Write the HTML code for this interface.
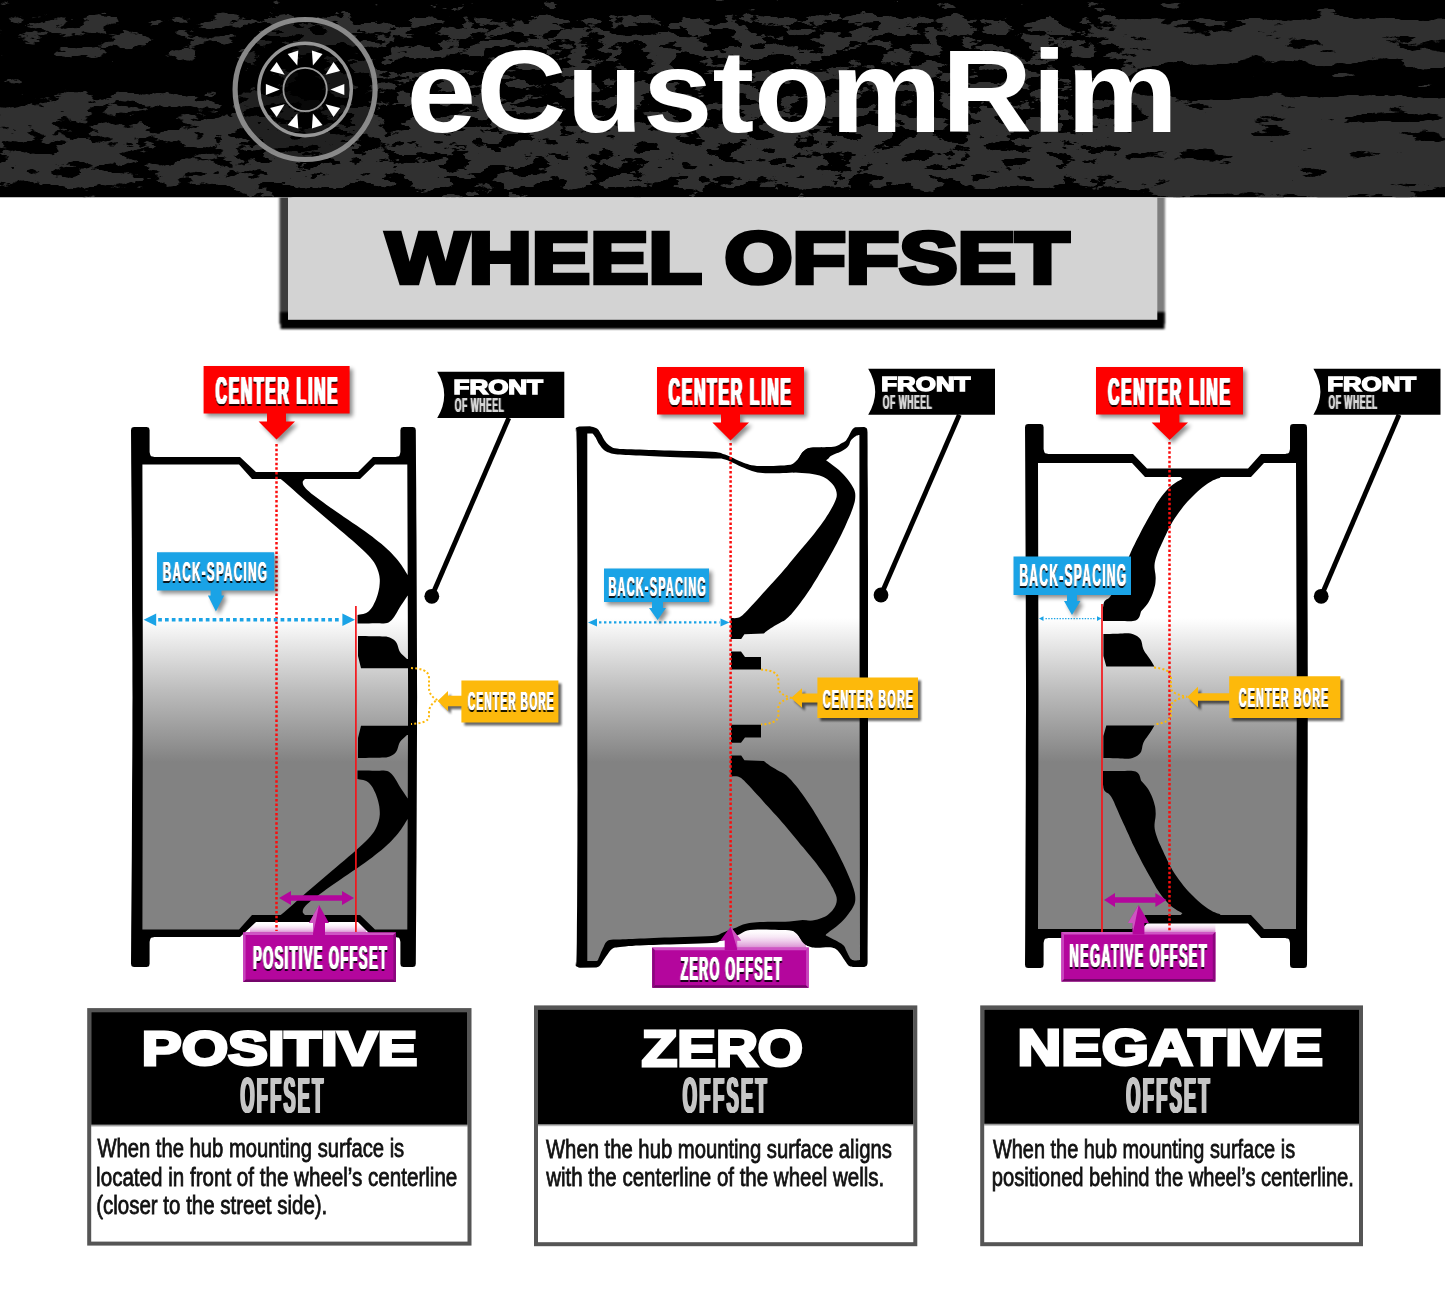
<!DOCTYPE html>
<html><head><meta charset="utf-8"><title>Wheel Offset</title>
<style>
html,body{margin:0;padding:0;background:#fff;}
body{width:1445px;height:1298px;overflow:hidden;}
svg{display:block;font-family:"Liberation Sans",sans-serif;will-change:transform;}
</style></head><body>
<svg width="1445" height="1298" viewBox="0 0 1445 1298">
<defs>
<filter id="tex" x="0" y="0" width="100%" height="100%" color-interpolation-filters="sRGB">
<feTurbulence type="fractalNoise" baseFrequency="0.016 0.055" numOctaves="6" seed="11" result="c0"/>
<feColorMatrix in="c0" type="matrix" values="1 0 0 0 0  1 0 0 0 0  1 0 0 0 0  0 0 0 0 1" result="coarse"/>
<feTurbulence type="fractalNoise" baseFrequency="0.034 0.085" numOctaves="5" seed="4" result="f0"/>
<feColorMatrix in="f0" type="matrix" values="1 0 0 0 0  1 0 0 0 0  1 0 0 0 0  0 0 0 0 1" result="fine"/>
<feGaussianBlur in="SourceGraphic" stdDeviation="22 2.2" result="b"/>
<feColorMatrix in="b" type="matrix" values="1 0 0 0 0  1 0 0 0 0  1 0 0 0 0  0 0 0 0 1" result="bias"/>
<feColorMatrix in="b" type="matrix" values="0 1 0 0 0  0 1 0 0 0  0 1 0 0 0  0 0 0 0 1" result="mfine"/>
<feColorMatrix in="b" type="matrix" values="0 -1 0 0 1  0 -1 0 0 1  0 -1 0 0 1  0 0 0 0 1" result="mcoarse"/>
<feComposite in="fine" in2="mfine" operator="arithmetic" k1="1" k2="0" k3="0" k4="0" result="t1"/>
<feComposite in="coarse" in2="mcoarse" operator="arithmetic" k1="1" k2="0" k3="0" k4="0" result="t2"/>
<feComposite in="t1" in2="t2" operator="arithmetic" k1="0" k2="1" k3="1" k4="0" result="n"/>
<feComposite in="n" in2="bias" operator="arithmetic" k1="0" k2="1" k3="0.5" k4="-0.25" result="v"/>
<feColorMatrix in="v" type="matrix" values="0 0 0 0 0.188  0 0 0 0 0.188  0 0 0 0 0.188  40 0 0 0 -20"/>
</filter>
<linearGradient id="bias" gradientUnits="userSpaceOnUse" x1="0" y1="0" x2="0" y2="198">
<stop offset="0" stop-color="#000"/><stop offset="0.07" stop-color="#1a1a1a"/><stop offset="0.13" stop-color="#999"/><stop offset="0.28" stop-color="#999"/>
<stop offset="0.36" stop-color="#666"/><stop offset="0.48" stop-color="#5a5a5a"/><stop offset="0.56" stop-color="#959595"/><stop offset="0.95" stop-color="#959595"/><stop offset="1" stop-color="#777"/></linearGradient>
<filter id="sh" x="-20%" y="-20%" width="150%" height="160%"><feGaussianBlur stdDeviation="2"/></filter>
<filter id="sh1" x="-20%" y="-20%" width="150%" height="160%"><feGaussianBlur stdDeviation="1.2"/></filter>
<filter id="blur3" x="-10%" y="-30%" width="120%" height="160%"><feGaussianBlur stdDeviation="2.2"/></filter>
<filter id="soft" x="-5%" y="-5%" width="110%" height="110%"><feGaussianBlur stdDeviation="0.5"/></filter>
<filter id="thick" x="-5%" y="-10%" width="110%" height="120%"><feMorphology operator="dilate" radius="1 0"/></filter>
<linearGradient id="ggrad" gradientUnits="userSpaceOnUse" x1="0" y1="618" x2="0" y2="762">
<stop offset="0" stop-color="#ffffff"/><stop offset="0.5" stop-color="#bdbdbd"/><stop offset="1" stop-color="#828282"/></linearGradient>
<linearGradient id="pgrad" x1="0" y1="0" x2="0" y2="1">
<stop offset="0" stop-color="#d45acb"/><stop offset="0.10" stop-color="#b4069d"/><stop offset="0.88" stop-color="#ae0598"/><stop offset="1" stop-color="#6d035f"/></linearGradient>
<linearGradient id="hsh" x1="0" y1="0" x2="0" y2="1"><stop offset="0" stop-color="#000" stop-opacity="0.55"/><stop offset="1" stop-color="#000" stop-opacity="0"/></linearGradient>
<linearGradient id="pglow" x1="0" y1="0" x2="0" y2="1">
<stop offset="0" stop-color="#ffffff" stop-opacity="0"/><stop offset="1" stop-color="#d98fd2"/></linearGradient>

<clipPath id="belowhdr"><rect x="0" y="197.5" width="1445" height="400"/></clipPath>
<filter id="lf60_fff_240505_22" x="-5%" y="-15%" width="110%" height="140%"><feConvolveMatrix in="SourceAlpha" order="3 1" kernelMatrix="0.60 1.00 0.60" divisor="1" edgeMode="none" result="a"/><feOffset in="a" dx="0" dy="2" result="o"/><feFlood flood-color="#240505"/><feComposite in2="o" operator="in" result="s"/><feFlood flood-color="#fff"/><feComposite in2="a" operator="in" result="m"/><feMerge><feMergeNode in="s"/><feMergeNode in="m"/></feMerge></filter>
<filter id="lf30_d4d4d4_n_20" x="-5%" y="-15%" width="110%" height="140%"><feConvolveMatrix in="SourceAlpha" order="3 1" kernelMatrix="0.30 1.00 0.30" divisor="1" edgeMode="none" result="a"/><feFlood flood-color="#d4d4d4"/><feComposite in2="a" operator="in" result="m"/></filter>
<filter id="lf20_fff_07121a_21" x="-5%" y="-15%" width="110%" height="140%"><feConvolveMatrix in="SourceAlpha" order="3 1" kernelMatrix="0.20 1.00 0.20" divisor="1" edgeMode="none" result="a"/><feOffset in="a" dx="0" dy="2" result="o"/><feFlood flood-color="#07121a"/><feComposite in2="o" operator="in" result="s"/><feFlood flood-color="#fff"/><feComposite in2="a" operator="in" result="m"/><feMerge><feMergeNode in="s"/><feMergeNode in="m"/></feMerge></filter>
<filter id="lf25_fff_1a1505_20" x="-5%" y="-15%" width="110%" height="140%"><feConvolveMatrix in="SourceAlpha" order="3 1" kernelMatrix="0.25 1.00 0.25" divisor="1" edgeMode="none" result="a"/><feOffset in="a" dx="0" dy="2" result="o"/><feFlood flood-color="#1a1505"/><feComposite in2="o" operator="in" result="s"/><feFlood flood-color="#fff"/><feComposite in2="a" operator="in" result="m"/><feMerge><feMergeNode in="s"/><feMergeNode in="m"/></feMerge></filter>
<filter id="lf35_fff_1c041a_20" x="-5%" y="-15%" width="110%" height="140%"><feConvolveMatrix in="SourceAlpha" order="3 1" kernelMatrix="0.35 1.00 0.35" divisor="1" edgeMode="none" result="a"/><feOffset in="a" dx="0" dy="2" result="o"/><feFlood flood-color="#1c041a"/><feComposite in2="o" operator="in" result="s"/><feFlood flood-color="#fff"/><feComposite in2="a" operator="in" result="m"/><feMerge><feMergeNode in="s"/><feMergeNode in="m"/></feMerge></filter>
<filter id="lf100_c6c6c6_n_20" x="-5%" y="-15%" width="110%" height="140%"><feConvolveMatrix in="SourceAlpha" order="3 1" kernelMatrix="1.00 1.00 1.00" divisor="1" edgeMode="none" result="a"/><feFlood flood-color="#c6c6c6"/><feComposite in2="a" operator="in" result="m"/></filter>
</defs>
<rect x="0" y="0" width="1445" height="197.5" fill="#000"/>
<g filter="url(#tex)"><rect x="-60" y="-30" width="322" height="44" fill="rgb(20,140,0)"/><rect x="-60" y="14" width="322" height="46" fill="rgb(107,140,0)"/><rect x="-60" y="60" width="322" height="32" fill="rgb(28,140,0)"/><rect x="-60" y="92" width="322" height="98" fill="rgb(143,140,0)"/><rect x="-60" y="190" width="322" height="40" fill="rgb(51,140,0)"/><rect x="262" y="-30" width="873" height="46" fill="rgb(26,230,0)"/><rect x="262" y="16" width="873" height="32" fill="rgb(140,230,0)"/><rect x="262" y="48" width="873" height="52" fill="rgb(112,230,0)"/><rect x="262" y="100" width="873" height="25" fill="rgb(117,230,0)"/><rect x="262" y="125" width="873" height="63" fill="rgb(168,230,0)"/><rect x="262" y="188" width="873" height="42" fill="rgb(38,230,0)"/><rect x="1135" y="-30" width="365" height="48" fill="rgb(20,26,0)"/><rect x="1135" y="18" width="365" height="47" fill="rgb(204,26,0)"/><rect x="1135" y="65" width="365" height="32" fill="rgb(26,26,0)"/><rect x="1135" y="97" width="365" height="20" fill="rgb(209,26,0)"/><rect x="1135" y="117" width="365" height="4" fill="rgb(51,26,0)"/><rect x="1135" y="121" width="365" height="71" fill="rgb(214,26,0)"/><rect x="1135" y="192" width="365" height="38" fill="rgb(76,26,0)"/></g>
<rect x="0" y="197.5" width="1445" height="60" fill="#fff"/>
<g>
<circle cx="305.1" cy="89.5" r="70" fill="#000" fill-opacity="0.3" stroke="#929292" stroke-opacity="0.92" stroke-width="5.2"/>
<circle cx="305.1" cy="89.5" r="46.2" fill="#000" fill-opacity="0.3" stroke="#a2a2a2" stroke-opacity="0.92" stroke-width="3.4"/>
<circle cx="305.1" cy="89.5" r="21.7" fill="#000" fill-opacity="0.6" stroke="#9c9c9c" stroke-width="1.8"/>
<path d="M25.3,0 L39.2,-5.6 L39.2,5.6 Z" fill="#fff" transform="translate(305.1,89.5) rotate(0)"/>
<path d="M25.3,0 L39.2,-5.6 L39.2,5.6 Z" fill="#fff" transform="translate(305.1,89.5) rotate(36)"/>
<path d="M25.3,0 L39.2,-5.6 L39.2,5.6 Z" fill="#fff" transform="translate(305.1,89.5) rotate(72)"/>
<path d="M25.3,0 L39.2,-5.6 L39.2,5.6 Z" fill="#fff" transform="translate(305.1,89.5) rotate(108)"/>
<path d="M25.3,0 L39.2,-5.6 L39.2,5.6 Z" fill="#fff" transform="translate(305.1,89.5) rotate(144)"/>
<path d="M25.3,0 L39.2,-5.6 L39.2,5.6 Z" fill="#fff" transform="translate(305.1,89.5) rotate(180)"/>
<path d="M25.3,0 L39.2,-5.6 L39.2,5.6 Z" fill="#fff" transform="translate(305.1,89.5) rotate(216)"/>
<path d="M25.3,0 L39.2,-5.6 L39.2,5.6 Z" fill="#fff" transform="translate(305.1,89.5) rotate(252)"/>
<path d="M25.3,0 L39.2,-5.6 L39.2,5.6 Z" fill="#fff" transform="translate(305.1,89.5) rotate(288)"/>
<path d="M25.3,0 L39.2,-5.6 L39.2,5.6 Z" fill="#fff" transform="translate(305.1,89.5) rotate(324)"/>
</g>
<text transform="translate(406.60,131.70) scale(1.0777,1.0000)" font-size="116.07" font-weight="bold" fill="#fff" >eCustomRim</text>
<g clip-path="url(#belowhdr)"><rect x="279.5" y="190" width="12" height="134" fill="#3c3c3c" filter="url(#sh1)"/><rect x="1153" y="190" width="12" height="134" fill="#7e7e7e" filter="url(#sh1)"/><rect x="280.5" y="312" width="884" height="17" fill="#000" filter="url(#sh1)"/></g>
<rect x="288" y="197.5" width="869.3" height="122.3" fill="#d3d3d3"/>
<text transform="translate(386.30,282.90) scale(1.2162,1.0000)" font-size="71.85" font-weight="bold" fill="#000" stroke="#000" stroke-width="4.60" stroke-linejoin="miter" stroke-miterlimit="2.2" >WHEEL OFFSET</text>
<rect x="250.0" y="922.4" width="116.0" height="10.0" fill="url(#pglow)"/>
<rect x="736.0" y="927.6" width="70.0" height="20.0" fill="url(#pglow)"/>
<rect x="1140.0" y="922.0" width="75.4" height="10.0" fill="url(#pglow)"/>
<path fill="#000" d="M132.5,697.0 L132.4,682.3 L132.4,661.9 L132.3,637.8 L132.1,611.8 L132.0,585.9 L131.9,562.0 L131.8,538.3 L131.6,512.9 L131.4,487.6 L131.2,464.1 L131.1,444.3 L131.0,430.0 L131.0,430.0 L131.1,429.7 L131.2,429.4 L131.3,429.0 L131.4,428.5 L131.6,428.1 L131.8,427.8 L132.1,427.6 L132.5,427.4 L133.0,427.3 L133.4,427.2 L133.7,427.1 L134.0,427.0 L146.6,427.0 L146.9,427.1 L147.2,427.2 L147.6,427.3 L148.1,427.4 L148.5,427.6 L148.8,427.8 L149.0,428.1 L149.2,428.5 L149.3,429.0 L149.4,429.4 L149.5,429.7 L149.6,430.0 L149.6,452.0 L149.7,452.4 L149.8,453.1 L150.0,453.8 L150.2,454.6 L150.4,455.3 L150.8,455.8 L151.3,456.2 L152.0,456.4 L152.8,456.6 L153.5,456.8 L154.2,456.9 L154.6,457.0 L240.0,457.0 L256.0,472.0 L358.0,472.0 L373.0,457.0 L395.4,457.0 L395.8,456.9 L396.5,456.8 L397.2,456.6 L398.0,456.4 L398.7,456.2 L399.2,455.8 L399.6,455.3 L399.8,454.6 L400.0,453.8 L400.2,453.1 L400.3,452.4 L400.4,452.0 L400.4,430.0 L400.5,429.7 L400.6,429.4 L400.7,429.0 L400.8,428.5 L401.0,428.1 L401.2,427.8 L401.5,427.6 L401.9,427.4 L402.4,427.3 L402.8,427.2 L403.1,427.1 L403.4,427.0 L412.8,427.0 L413.1,427.1 L413.4,427.2 L413.9,427.3 L414.3,427.4 L414.7,427.6 L415.0,427.8 L415.2,428.1 L415.4,428.5 L415.5,429.0 L415.6,429.4 L415.7,429.7 L415.8,430.0 L415.8,430.0 L415.9,444.3 L416.0,464.1 L416.2,487.6 L416.3,512.9 L416.5,538.3 L416.6,562.0 L416.7,585.9 L416.8,611.8 L416.9,637.8 L417.0,661.9 L417.0,682.3 L417.1,697.0 L417.1,697.0 L417.0,711.7 L417.0,732.1 L416.9,756.2 L416.8,782.2 L416.7,808.1 L416.6,832.0 L416.5,855.7 L416.3,881.1 L416.2,906.4 L416.0,929.9 L415.9,949.7 L415.8,964.0 L415.8,964.0 L415.7,964.3 L415.6,964.6 L415.5,965.0 L415.4,965.5 L415.2,965.9 L415.0,966.2 L414.7,966.4 L414.3,966.6 L413.9,966.7 L413.4,966.8 L413.1,966.9 L412.8,967.0 L403.4,967.0 L403.1,966.9 L402.8,966.8 L402.4,966.7 L401.9,966.6 L401.5,966.4 L401.2,966.2 L401.0,965.9 L400.8,965.5 L400.7,965.0 L400.6,964.6 L400.5,964.3 L400.4,964.0 L400.4,942.0 L400.3,941.6 L400.2,940.9 L400.0,940.2 L399.8,939.4 L399.6,938.7 L399.2,938.2 L398.7,937.8 L398.0,937.6 L397.2,937.4 L396.5,937.2 L395.8,937.1 L395.4,937.0 L373.0,937.0 L358.0,922.0 L256.0,922.0 L240.0,937.0 L154.6,937.0 L154.2,937.1 L153.5,937.2 L152.8,937.4 L152.0,937.6 L151.3,937.8 L150.8,938.2 L150.4,938.7 L150.2,939.4 L150.0,940.2 L149.8,940.9 L149.7,941.6 L149.6,942.0 L149.6,964.0 L149.5,964.3 L149.4,964.6 L149.3,965.0 L149.2,965.5 L149.0,965.9 L148.8,966.2 L148.5,966.4 L148.1,966.6 L147.6,966.7 L147.2,966.8 L146.9,966.9 L146.6,967.0 L134.0,967.0 L133.7,966.9 L133.4,966.8 L133.0,966.7 L132.5,966.6 L132.1,966.4 L131.8,966.2 L131.6,965.9 L131.4,965.5 L131.3,965.0 L131.2,964.6 L131.1,964.3 L131.0,964.0 L131.0,964.0 L131.1,949.7 L131.2,929.9 L131.4,906.4 L131.6,881.1 L131.8,855.7 L131.9,832.0 L132.0,808.1 L132.1,782.2 L132.3,756.2 L132.4,732.1 L132.4,711.7 L132.5,697.0Z"/>
<path d="M142.9,697.0 L142.4,464.4 L239.0,464.4 L252.0,479.0 L360.0,479.0 L375.0,464.4 L407.3,464.4 L408.1,697.0 L408.1,697.0 L407.3,929.6 L375.0,929.6 L360.0,915.0 L252.0,915.0 L239.0,929.6 L142.4,929.6 L142.9,697.0Z" fill="url(#ggrad)"/>
<path fill="#000" d="M272.0,474.0 L277.0,479.0 L277.2,478.8 L277.2,478.2 L277.4,477.7 L277.9,477.5 L279.0,477.9 L281.0,479.2 L284.1,481.7 L288.1,485.2 L292.7,489.3 L297.6,493.7 L302.5,498.0 L307.0,502.0 L311.2,505.6 L315.3,509.1 L319.4,512.6 L323.5,516.1 L327.6,519.5 L331.7,523.0 L335.9,526.6 L340.2,530.2 L344.5,533.8 L348.7,537.4 L352.7,540.8 L356.3,544.0 L359.6,547.0 L362.6,549.8 L365.5,552.5 L368.0,555.1 L370.3,557.6 L372.3,560.0 L374.0,562.3 L375.3,564.4 L376.3,566.5 L377.2,568.4 L377.9,570.4 L378.5,572.3 L379.0,574.2 L379.4,576.0 L379.6,577.8 L379.8,579.6 L379.8,581.5 L379.7,583.4 L379.5,585.4 L379.3,587.5 L378.9,589.6 L378.4,591.7 L377.9,593.8 L377.3,595.8 L376.6,597.8 L375.9,599.8 L375.0,601.7 L374.1,603.6 L373.2,605.4 L372.3,606.9 L371.4,608.3 L370.4,609.5 L369.5,610.5 L368.5,611.5 L367.4,612.3 L366.2,613.0 L364.8,613.6 L363.2,614.0 L361.5,614.3 L359.9,614.6 L358.5,614.7 L357.5,614.9 L357.5,623.5 L359.5,623.5 L362.2,623.5 L365.5,623.4 L368.9,623.4 L372.2,623.3 L375.0,623.3 L377.4,623.3 L379.7,623.3 L381.8,623.4 L383.7,623.4 L385.5,623.2 L387.1,622.9 L388.5,622.4 L389.6,621.8 L390.5,621.1 L391.4,620.3 L392.3,619.2 L393.3,618.0 L394.4,616.5 L395.5,614.8 L396.6,612.9 L397.7,610.9 L398.8,608.9 L400.0,607.0 L401.3,605.0 L402.7,602.9 L404.2,600.7 L405.5,598.7 L406.7,597.0 L407.5,595.8 L410.0,595.8 L410.0,574.8 L407.5,574.8 L406.7,573.5 L405.6,571.7 L404.3,569.5 L402.8,567.2 L401.2,564.8 L399.5,562.5 L397.8,560.3 L395.9,558.1 L394.0,555.9 L391.8,553.6 L389.6,551.3 L387.1,548.9 L384.4,546.5 L381.6,544.1 L378.6,541.7 L375.4,539.2 L372.1,536.6 L368.6,534.0 L364.9,531.3 L360.9,528.5 L356.7,525.6 L352.4,522.7 L348.2,519.8 L344.0,516.9 L339.8,514.0 L335.4,510.9 L331.0,507.9 L326.7,504.9 L322.8,502.1 L319.3,499.6 L316.3,497.3 L313.6,495.3 L311.2,493.4 L309.1,491.6 L307.3,490.0 L305.8,488.5 L304.6,487.1 L303.8,486.0 L303.3,484.9 L302.9,484.0 L302.8,483.1 L302.7,482.3 L302.8,481.5 L303.2,480.9 L303.7,480.3 L304.2,479.7 L304.7,479.3 L305.0,479.0 L310.0,474.0Z"/>
<path fill="#000" d="M272.0,920.0 L277.0,915.0 L277.2,915.2 L277.2,915.8 L277.4,916.3 L277.9,916.5 L279.0,916.1 L281.0,914.8 L284.1,912.3 L288.1,908.8 L292.7,904.7 L297.6,900.3 L302.5,896.0 L307.0,892.0 L311.2,888.4 L315.3,884.9 L319.4,881.4 L323.5,877.9 L327.6,874.5 L331.7,871.0 L335.9,867.4 L340.2,863.8 L344.5,860.2 L348.7,856.6 L352.7,853.2 L356.3,850.0 L359.6,847.0 L362.6,844.2 L365.5,841.5 L368.0,838.9 L370.3,836.4 L372.3,834.0 L374.0,831.7 L375.3,829.6 L376.3,827.5 L377.2,825.6 L377.9,823.6 L378.5,821.7 L379.0,819.8 L379.4,818.0 L379.6,816.2 L379.8,814.4 L379.8,812.5 L379.7,810.6 L379.5,808.6 L379.3,806.5 L378.9,804.4 L378.4,802.3 L377.9,800.2 L377.3,798.2 L376.6,796.2 L375.9,794.2 L375.0,792.3 L374.1,790.4 L373.2,788.6 L372.3,787.1 L371.4,785.7 L370.4,784.5 L369.5,783.5 L368.5,782.5 L367.4,781.7 L366.2,781.0 L364.8,780.4 L363.2,780.0 L361.5,779.7 L359.9,779.4 L358.5,779.3 L357.5,779.1 L357.5,770.5 L359.5,770.5 L362.2,770.5 L365.5,770.6 L368.9,770.6 L372.2,770.7 L375.0,770.7 L377.4,770.7 L379.7,770.7 L381.8,770.6 L383.7,770.6 L385.5,770.8 L387.1,771.1 L388.5,771.6 L389.6,772.2 L390.5,772.9 L391.4,773.7 L392.3,774.8 L393.3,776.0 L394.4,777.5 L395.5,779.2 L396.6,781.1 L397.7,783.1 L398.8,785.1 L400.0,787.0 L401.3,789.0 L402.7,791.1 L404.2,793.3 L405.5,795.3 L406.7,797.0 L407.5,798.2 L410.0,798.2 L410.0,819.2 L407.5,819.2 L406.7,820.5 L405.6,822.3 L404.3,824.5 L402.8,826.8 L401.2,829.2 L399.5,831.5 L397.8,833.7 L395.9,835.9 L394.0,838.1 L391.8,840.4 L389.6,842.7 L387.1,845.1 L384.4,847.5 L381.6,849.9 L378.6,852.3 L375.4,854.8 L372.1,857.4 L368.6,860.0 L364.9,862.7 L360.9,865.5 L356.7,868.4 L352.4,871.3 L348.2,874.2 L344.0,877.1 L339.8,880.0 L335.4,883.1 L331.0,886.1 L326.7,889.1 L322.8,891.9 L319.3,894.4 L316.3,896.7 L313.6,898.7 L311.2,900.6 L309.1,902.4 L307.3,904.0 L305.8,905.5 L304.6,906.9 L303.8,908.0 L303.3,909.1 L302.9,910.0 L302.8,910.9 L302.7,911.7 L302.8,912.5 L303.2,913.1 L303.7,913.7 L304.2,914.3 L304.7,914.7 L305.0,915.0 L310.0,920.0Z"/>
<path fill="#000" d="M358.0,636.0 L359.9,636.0 L362.6,636.1 L365.7,636.1 L369.0,636.2 L372.2,636.2 L375.0,636.3 L377.5,636.3 L379.8,636.3 L382.1,636.4 L384.2,636.4 L386.2,636.6 L388.0,637.0 L389.7,637.5 L391.2,638.2 L392.6,638.9 L393.8,639.8 L395.0,640.8 L396.0,642.0 L396.9,643.4 L397.5,645.1 L398.1,646.9 L398.6,648.7 L399.2,650.4 L400.0,652.0 L401.1,653.4 L402.4,654.8 L403.8,656.1 L405.1,657.3 L406.2,658.3 L407.0,659.0 L410.0,659.0 L410.0,668.3 L361.0,668.3 L358.0,656.0Z"/>
<path fill="#000" d="M358.0,758.0 L359.9,758.0 L362.6,757.9 L365.7,757.9 L369.0,757.8 L372.2,757.8 L375.0,757.7 L377.5,757.7 L379.8,757.7 L382.1,757.6 L384.2,757.6 L386.2,757.4 L388.0,757.0 L389.7,756.5 L391.2,755.8 L392.6,755.1 L393.8,754.2 L395.0,753.2 L396.0,752.0 L396.9,750.6 L397.5,748.9 L398.1,747.1 L398.6,745.3 L399.2,743.6 L400.0,742.0 L401.1,740.6 L402.4,739.2 L403.8,737.9 L405.1,736.7 L406.2,735.7 L407.0,735.0 L410.0,735.0 L410.0,725.7 L361.0,725.7 L358.0,738.0Z"/>
<path fill="#000" d="M1026.0,696.0 L1026.0,681.2 L1025.9,660.6 L1025.8,636.3 L1025.8,610.1 L1025.7,584.1 L1025.6,560.0 L1025.5,536.1 L1025.4,510.5 L1025.3,485.0 L1025.2,461.4 L1025.1,441.4 L1025.0,427.0 L1025.0,427.0 L1025.1,426.7 L1025.2,426.4 L1025.3,426.0 L1025.4,425.5 L1025.6,425.1 L1025.8,424.8 L1026.1,424.6 L1026.5,424.4 L1026.9,424.3 L1027.4,424.2 L1027.7,424.1 L1028.0,424.0 L1040.6,424.0 L1040.9,424.1 L1041.2,424.2 L1041.6,424.3 L1042.1,424.4 L1042.5,424.6 L1042.8,424.8 L1043.0,425.1 L1043.2,425.5 L1043.3,426.0 L1043.4,426.4 L1043.5,426.7 L1043.6,427.0 L1043.6,449.0 L1043.7,449.4 L1043.8,450.1 L1044.0,450.8 L1044.2,451.6 L1044.4,452.3 L1044.8,452.8 L1045.3,453.2 L1046.0,453.4 L1046.8,453.6 L1047.5,453.8 L1048.2,453.9 L1048.6,454.0 L1133.0,454.0 L1147.0,468.4 L1248.0,468.4 L1261.0,454.0 L1285.0,454.0 L1285.4,453.9 L1286.1,453.8 L1286.8,453.6 L1287.6,453.4 L1288.3,453.2 L1288.8,452.8 L1289.2,452.3 L1289.4,451.6 L1289.6,450.8 L1289.8,450.1 L1289.9,449.4 L1290.0,449.0 L1290.0,427.0 L1290.1,426.7 L1290.2,426.4 L1290.3,426.0 L1290.4,425.5 L1290.6,425.1 L1290.8,424.8 L1291.1,424.6 L1291.5,424.4 L1291.9,424.3 L1292.4,424.2 L1292.7,424.1 L1293.0,424.0 L1304.0,424.0 L1304.3,424.1 L1304.6,424.2 L1305.1,424.3 L1305.5,424.4 L1305.9,424.6 L1306.2,424.8 L1306.4,425.1 L1306.6,425.5 L1306.7,426.0 L1306.8,426.4 L1306.9,426.7 L1307.0,427.0 L1307.0,427.0 L1307.1,441.4 L1307.1,461.4 L1307.2,485.0 L1307.3,510.5 L1307.4,536.1 L1307.5,560.0 L1307.5,584.1 L1307.6,610.1 L1307.7,636.3 L1307.7,660.6 L1307.8,681.2 L1307.8,696.0 L1307.8,696.0 L1307.8,710.8 L1307.7,731.4 L1307.7,755.7 L1307.6,781.9 L1307.5,807.9 L1307.5,832.0 L1307.4,855.9 L1307.3,881.5 L1307.2,907.0 L1307.1,930.6 L1307.1,950.6 L1307.0,965.0 L1307.0,965.0 L1306.9,965.3 L1306.8,965.6 L1306.7,966.0 L1306.6,966.5 L1306.4,966.9 L1306.2,967.2 L1305.9,967.4 L1305.5,967.6 L1305.1,967.7 L1304.6,967.8 L1304.3,967.9 L1304.0,968.0 L1293.0,968.0 L1292.7,967.9 L1292.4,967.8 L1291.9,967.7 L1291.5,967.6 L1291.1,967.4 L1290.8,967.2 L1290.6,966.9 L1290.4,966.5 L1290.3,966.0 L1290.2,965.6 L1290.1,965.3 L1290.0,965.0 L1290.0,943.0 L1289.9,942.6 L1289.8,941.9 L1289.6,941.2 L1289.4,940.4 L1289.2,939.7 L1288.8,939.2 L1288.3,938.8 L1287.6,938.6 L1286.8,938.4 L1286.1,938.2 L1285.4,938.1 L1285.0,938.0 L1261.0,938.0 L1248.0,923.6 L1147.0,923.6 L1133.0,938.0 L1048.6,938.0 L1048.2,938.1 L1047.5,938.2 L1046.8,938.4 L1046.0,938.6 L1045.3,938.8 L1044.8,939.2 L1044.4,939.7 L1044.2,940.4 L1044.0,941.2 L1043.8,941.9 L1043.7,942.6 L1043.6,943.0 L1043.6,965.0 L1043.5,965.3 L1043.4,965.6 L1043.3,966.0 L1043.2,966.5 L1043.0,966.9 L1042.8,967.2 L1042.5,967.4 L1042.1,967.6 L1041.6,967.7 L1041.2,967.8 L1040.9,967.9 L1040.6,968.0 L1028.0,968.0 L1027.7,967.9 L1027.4,967.8 L1026.9,967.7 L1026.5,967.6 L1026.1,967.4 L1025.8,967.2 L1025.6,966.9 L1025.4,966.5 L1025.3,966.0 L1025.2,965.6 L1025.1,965.3 L1025.0,965.0 L1025.0,965.0 L1025.1,950.6 L1025.2,930.6 L1025.3,907.0 L1025.4,881.5 L1025.5,855.9 L1025.6,832.0 L1025.7,807.9 L1025.8,781.9 L1025.8,755.7 L1025.9,731.4 L1026.0,710.8 L1026.0,696.0Z"/>
<path d="M1038.5,696.0 L1038.0,463.0 L1132.0,463.0 L1145.0,477.0 L1251.0,477.0 L1264.0,463.0 L1296.0,463.0 L1296.8,696.0 L1296.8,696.0 L1296.0,929.0 L1264.0,929.0 L1251.0,915.0 L1145.0,915.0 L1132.0,929.0 L1038.0,929.0 L1038.5,696.0Z" fill="url(#ggrad)"/>
<path fill="#000" d="M1176.0,472.0 L1182.4,478.8 L1181.2,479.5 L1179.4,480.5 L1177.4,481.6 L1175.2,482.9 L1173.0,484.4 L1171.0,486.0 L1169.1,487.8 L1167.2,489.8 L1165.2,491.9 L1163.3,494.2 L1161.5,496.6 L1159.7,499.0 L1158.0,501.5 L1156.3,504.1 L1154.8,506.8 L1153.2,509.6 L1151.6,512.4 L1150.0,515.2 L1148.4,518.1 L1146.7,521.1 L1145.1,524.1 L1143.4,527.1 L1141.8,530.1 L1140.3,533.0 L1138.8,535.9 L1137.3,538.8 L1135.8,541.7 L1134.5,544.4 L1133.2,546.9 L1132.2,549.1 L1131.5,550.7 L1131.0,551.7 L1130.7,552.5 L1130.3,553.4 L1129.8,554.6 L1129.0,556.4 L1127.8,559.0 L1126.4,562.0 L1124.9,565.4 L1123.2,569.0 L1121.6,572.6 L1120.0,576.0 L1118.5,579.4 L1117.0,583.0 L1115.4,586.5 L1114.0,589.9 L1112.5,592.9 L1111.2,595.3 L1109.9,597.0 L1108.7,598.2 L1107.5,599.0 L1106.4,599.6 L1105.5,600.2 L1104.7,601.0 L1104.1,602.1 L1103.7,603.3 L1103.4,604.6 L1103.3,605.7 L1103.1,606.7 L1103.0,607.4 L1103.0,621.0 L1104.9,621.0 L1107.6,621.0 L1110.7,621.0 L1114.0,621.0 L1117.2,621.0 L1120.0,621.0 L1122.5,621.0 L1124.9,621.1 L1127.2,621.2 L1129.4,621.2 L1131.3,621.2 L1133.0,621.0 L1134.4,620.7 L1135.6,620.4 L1136.5,619.9 L1137.3,619.4 L1138.0,618.7 L1138.7,618.0 L1139.3,617.0 L1139.8,615.8 L1140.2,614.5 L1140.5,613.2 L1140.8,612.2 L1141.0,611.4 L1141.0,611.4 L1141.8,610.5 L1143.0,609.2 L1144.3,607.8 L1145.8,606.1 L1147.2,604.3 L1148.4,602.5 L1149.5,600.6 L1150.5,598.4 L1151.6,596.2 L1152.5,593.9 L1153.3,591.7 L1154.0,589.6 L1154.5,587.6 L1155.0,585.8 L1155.3,584.0 L1155.5,582.1 L1155.6,580.3 L1155.7,578.3 L1155.6,576.2 L1155.4,574.0 L1155.0,571.8 L1154.7,569.6 L1154.5,567.4 L1154.5,565.3 L1154.7,563.3 L1155.0,561.5 L1155.5,559.6 L1156.0,557.8 L1156.6,556.0 L1157.3,554.0 L1158.0,552.0 L1158.8,550.0 L1159.7,548.0 L1160.7,545.9 L1161.8,543.6 L1163.0,541.0 L1164.3,538.1 L1165.8,534.9 L1167.4,531.6 L1169.1,528.2 L1170.9,524.8 L1172.7,521.6 L1174.6,518.5 L1176.7,515.4 L1178.8,512.4 L1181.1,509.4 L1183.3,506.6 L1185.6,503.8 L1188.0,501.1 L1190.5,498.5 L1193.0,495.9 L1195.5,493.5 L1197.9,491.3 L1200.2,489.3 L1202.3,487.5 L1204.3,485.9 L1206.3,484.5 L1208.1,483.3 L1209.8,482.2 L1211.5,481.2 L1213.1,480.3 L1214.7,479.7 L1216.3,479.1 L1217.6,478.6 L1218.8,478.3 L1219.6,478.0 L1226.0,472.0Z"/>
<path fill="#000" d="M1176.0,920.0 L1182.4,913.2 L1181.2,912.5 L1179.4,911.5 L1177.4,910.4 L1175.2,909.1 L1173.0,907.6 L1171.0,906.0 L1169.1,904.2 L1167.2,902.2 L1165.2,900.1 L1163.3,897.8 L1161.5,895.4 L1159.7,893.0 L1158.0,890.5 L1156.3,887.9 L1154.8,885.2 L1153.2,882.4 L1151.6,879.6 L1150.0,876.8 L1148.4,873.9 L1146.7,870.9 L1145.1,867.9 L1143.4,864.9 L1141.8,861.9 L1140.3,859.0 L1138.8,856.1 L1137.3,853.2 L1135.8,850.3 L1134.5,847.6 L1133.2,845.1 L1132.2,842.9 L1131.5,841.3 L1131.0,840.3 L1130.7,839.5 L1130.3,838.6 L1129.8,837.4 L1129.0,835.6 L1127.8,833.0 L1126.4,830.0 L1124.9,826.6 L1123.2,823.0 L1121.6,819.4 L1120.0,816.0 L1118.5,812.6 L1117.0,809.0 L1115.4,805.5 L1114.0,802.1 L1112.5,799.1 L1111.2,796.7 L1109.9,795.0 L1108.7,793.8 L1107.5,793.0 L1106.4,792.4 L1105.5,791.8 L1104.7,791.0 L1104.1,789.9 L1103.7,788.7 L1103.4,787.4 L1103.3,786.3 L1103.1,785.3 L1103.0,784.6 L1103.0,771.0 L1104.9,771.0 L1107.6,771.0 L1110.7,771.0 L1114.0,771.0 L1117.2,771.0 L1120.0,771.0 L1122.5,771.0 L1124.9,770.9 L1127.2,770.8 L1129.4,770.8 L1131.3,770.8 L1133.0,771.0 L1134.4,771.3 L1135.6,771.6 L1136.5,772.1 L1137.3,772.6 L1138.0,773.3 L1138.7,774.0 L1139.3,775.0 L1139.8,776.2 L1140.2,777.5 L1140.5,778.8 L1140.8,779.8 L1141.0,780.6 L1141.0,780.6 L1141.8,781.5 L1143.0,782.8 L1144.3,784.2 L1145.8,785.9 L1147.2,787.7 L1148.4,789.5 L1149.5,791.4 L1150.5,793.6 L1151.6,795.8 L1152.5,798.1 L1153.3,800.3 L1154.0,802.4 L1154.5,804.4 L1155.0,806.2 L1155.3,808.0 L1155.5,809.9 L1155.6,811.7 L1155.7,813.7 L1155.6,815.8 L1155.4,818.0 L1155.0,820.2 L1154.7,822.4 L1154.5,824.6 L1154.5,826.7 L1154.7,828.7 L1155.0,830.5 L1155.5,832.4 L1156.0,834.2 L1156.6,836.0 L1157.3,838.0 L1158.0,840.0 L1158.8,842.0 L1159.7,844.0 L1160.7,846.1 L1161.8,848.4 L1163.0,851.0 L1164.3,853.9 L1165.8,857.1 L1167.4,860.4 L1169.1,863.8 L1170.9,867.2 L1172.7,870.4 L1174.6,873.5 L1176.7,876.6 L1178.8,879.6 L1181.1,882.6 L1183.3,885.4 L1185.6,888.2 L1188.0,890.9 L1190.5,893.5 L1193.0,896.1 L1195.5,898.5 L1197.9,900.7 L1200.2,902.7 L1202.3,904.5 L1204.3,906.1 L1206.3,907.5 L1208.1,908.7 L1209.8,909.8 L1211.5,910.8 L1213.1,911.7 L1214.7,912.3 L1216.3,912.9 L1217.6,913.4 L1218.8,913.7 L1219.6,914.0 L1226.0,920.0Z"/>
<path fill="#000" d="M1103.4,634.1 L1105.0,634.1 L1107.3,634.0 L1109.9,633.9 L1112.7,633.8 L1115.5,633.8 L1118.0,633.7 L1120.2,633.6 L1122.5,633.4 L1124.6,633.3 L1126.7,633.2 L1128.7,633.3 L1130.6,633.6 L1132.5,634.1 L1134.3,634.8 L1136.0,635.6 L1137.7,636.6 L1139.1,637.7 L1140.3,639.0 L1141.2,640.5 L1141.7,642.2 L1142.1,644.0 L1142.4,645.9 L1142.9,647.7 L1143.5,649.5 L1144.4,651.2 L1145.5,652.9 L1146.7,654.5 L1147.9,656.2 L1149.0,657.7 L1150.0,659.2 L1150.9,660.6 L1151.8,662.1 L1152.7,663.5 L1153.4,664.7 L1154.0,665.7 L1154.5,666.5 L1106.3,666.5 L1103.4,656.0Z"/>
<path fill="#000" d="M1103.4,757.9 L1105.0,757.9 L1107.3,758.0 L1109.9,758.1 L1112.7,758.2 L1115.5,758.2 L1118.0,758.3 L1120.2,758.4 L1122.5,758.6 L1124.6,758.7 L1126.7,758.8 L1128.7,758.7 L1130.6,758.4 L1132.5,757.9 L1134.3,757.2 L1136.0,756.4 L1137.7,755.4 L1139.1,754.3 L1140.3,753.0 L1141.2,751.5 L1141.7,749.8 L1142.1,748.0 L1142.4,746.1 L1142.9,744.3 L1143.5,742.5 L1144.4,740.8 L1145.5,739.1 L1146.7,737.5 L1147.9,735.8 L1149.0,734.3 L1150.0,732.8 L1150.9,731.4 L1151.8,729.9 L1152.7,728.5 L1153.4,727.3 L1154.0,726.3 L1154.5,725.5 L1106.3,725.5 L1103.4,736.0Z"/>
<path fill="#000" d="M577.4,697.2 L577.4,682.1 L577.4,661.0 L577.5,636.1 L577.5,609.5 L577.4,583.5 L577.4,560.0 L577.3,537.7 L577.2,514.6 L577.1,491.9 L576.9,471.1 L576.8,453.3 L576.6,440.0 L576.4,432.1 L576.1,428.7 L575.9,428.5 L575.6,429.9 L575.4,431.6 L575.2,432.0 L575.3,431.5 L575.3,430.9 L575.4,430.1 L575.5,429.3 L575.7,428.6 L576.0,428.0 L576.5,427.6 L577.1,427.2 L577.8,426.9 L578.5,426.7 L579.1,426.5 L579.5,426.4 L590.0,426.2 L590.8,426.4 L591.9,426.7 L593.2,427.0 L594.6,427.4 L595.9,427.9 L597.0,428.5 L597.8,429.2 L598.6,430.0 L599.2,431.0 L599.8,431.9 L600.4,433.0 L601.0,434.0 L601.7,435.1 L602.3,436.3 L602.9,437.5 L603.6,438.8 L604.3,439.9 L605.0,441.0 L605.8,442.0 L606.5,442.9 L607.3,443.8 L608.1,444.6 L609.0,445.3 L610.0,446.0 L610.9,446.6 L611.6,447.1 L612.4,447.6 L613.4,447.9 L614.9,448.3 L617.0,448.6 L619.8,448.9 L623.2,449.1 L627.1,449.2 L631.2,449.3 L635.6,449.5 L640.0,449.6 L644.5,449.8 L649.0,449.9 L653.8,450.1 L658.9,450.3 L664.2,450.4 L670.0,450.6 L676.6,450.8 L684.2,450.9 L692.1,451.1 L699.7,451.3 L706.5,451.5 L712.0,451.8 L715.8,452.1 L718.4,452.5 L720.1,452.8 L721.5,453.3 L723.0,453.9 L725.0,454.6 L727.6,455.6 L730.3,456.8 L733.1,458.1 L735.9,459.5 L738.7,460.7 L741.2,461.8 L743.5,462.7 L745.5,463.4 L747.5,464.1 L749.4,464.7 L751.6,465.2 L754.1,465.6 L757.0,465.9 L760.1,466.0 L763.4,466.1 L766.8,466.1 L770.2,466.0 L773.5,465.9 L776.9,465.8 L780.5,465.6 L784.2,465.4 L787.6,465.1 L790.6,464.8 L793.0,464.3 L794.6,463.7 L795.7,463.0 L796.3,462.2 L796.7,461.3 L797.2,460.4 L797.8,459.4 L798.6,458.3 L799.4,457.0 L800.1,455.7 L801.0,454.4 L801.8,453.2 L802.7,452.1 L803.6,451.2 L804.5,450.4 L805.4,449.7 L806.4,449.1 L807.6,448.5 L809.1,448.1 L810.9,447.8 L812.9,447.6 L815.2,447.5 L817.5,447.4 L819.9,447.4 L822.1,447.3 L824.3,447.2 L826.6,447.1 L829.0,447.1 L831.2,447.0 L833.2,446.8 L835.0,446.5 L836.5,446.1 L837.7,445.6 L838.8,445.0 L839.7,444.4 L840.6,443.8 L841.5,443.2 L842.4,442.7 L843.2,442.4 L844.0,442.0 L844.8,441.6 L845.6,440.9 L846.4,440.0 L847.3,438.6 L848.3,436.9 L849.3,435.0 L850.3,433.0 L851.2,431.3 L852.0,430.0 L852.7,429.1 L853.3,428.5 L853.9,428.0 L854.3,427.7 L854.7,427.5 L855.0,427.3 L864.0,427.0 L864.3,427.1 L864.8,427.3 L865.4,427.5 L865.9,427.8 L866.4,428.1 L866.8,428.5 L867.0,429.0 L867.2,429.6 L867.3,430.3 L867.4,431.0 L867.4,431.6 L867.5,432.0 L867.5,432.0 L867.6,445.8 L867.6,464.8 L867.8,487.4 L867.9,511.9 L867.9,536.7 L868.0,560.0 L868.0,583.9 L868.0,610.1 L868.0,636.6 L868.0,661.3 L868.0,682.2 L868.0,697.2 L868.0,697.2 L868.0,713.0 L868.0,735.0 L868.0,761.0 L868.0,788.6 L868.0,815.7 L868.0,840.0 L868.0,863.0 L867.9,886.8 L867.8,910.1 L867.7,931.4 L867.6,949.3 L867.6,962.4 L867.6,962.4 L867.5,962.8 L867.5,963.3 L867.4,963.9 L867.2,964.5 L867.1,965.1 L866.8,965.6 L866.4,966.0 L865.9,966.3 L865.3,966.5 L864.8,966.7 L864.3,966.9 L864.0,967.0 L853.4,967.0 L852.9,966.9 L852.1,966.8 L851.2,966.6 L850.3,966.4 L849.3,966.0 L848.4,965.4 L847.6,964.6 L846.8,963.5 L846.0,962.3 L845.1,961.0 L844.3,959.7 L843.4,958.4 L842.5,957.1 L841.5,955.6 L840.5,954.1 L839.5,952.7 L838.5,951.4 L837.4,950.3 L836.4,949.5 L835.4,948.8 L834.5,948.3 L833.4,947.9 L832.0,947.5 L830.4,947.3 L828.3,947.2 L825.7,947.3 L822.9,947.5 L820.1,947.7 L817.5,947.8 L815.3,947.8 L813.5,947.6 L812.1,947.4 L810.8,947.0 L809.6,946.6 L808.5,946.0 L807.3,945.3 L806.1,944.4 L804.9,943.3 L803.7,942.1 L802.5,940.8 L801.4,939.5 L800.3,938.3 L799.4,937.1 L798.7,935.8 L798.0,934.5 L797.2,933.2 L796.0,932.1 L794.2,931.3 L791.8,930.7 L789.0,930.3 L785.8,930.1 L782.3,930.0 L778.7,929.9 L775.0,929.8 L771.0,929.7 L766.6,929.6 L762.0,929.5 L757.6,929.5 L753.5,929.7 L750.0,930.0 L747.2,930.6 L745.0,931.3 L743.1,932.3 L741.4,933.2 L739.7,934.2 L738.0,935.0 L736.2,935.7 L734.4,936.5 L732.8,937.2 L731.1,937.9 L729.5,938.5 L728.0,939.0 L726.6,939.4 L725.2,939.8 L723.9,940.1 L722.6,940.4 L721.3,940.7 L720.0,941.0 L719.1,941.3 L718.6,941.7 L718.1,942.0 L717.2,942.4 L715.3,942.7 L712.0,943.0 L706.8,943.3 L700.1,943.5 L692.4,943.8 L684.4,944.0 L676.7,944.2 L670.0,944.4 L664.2,944.6 L658.7,944.7 L653.6,944.9 L648.8,945.0 L644.3,945.2 L640.0,945.4 L635.9,945.6 L632.1,945.9 L628.6,946.1 L625.4,946.4 L622.5,946.7 L620.0,947.0 L618.0,947.2 L616.4,947.4 L615.2,947.5 L614.1,947.8 L613.1,948.3 L612.0,949.0 L610.8,950.1 L609.5,951.5 L608.3,953.2 L607.1,954.9 L606.0,956.5 L605.0,958.0 L604.0,959.4 L603.1,960.8 L602.3,962.2 L601.5,963.5 L600.8,964.6 L600.0,965.5 L599.2,966.2 L598.4,966.7 L597.7,967.0 L597.0,967.3 L596.4,967.4 L596.0,967.6 L579.5,967.8 L579.1,967.6 L578.5,967.4 L577.8,967.1 L577.1,966.8 L576.5,966.4 L576.0,966.0 L575.7,965.4 L575.5,964.7 L575.4,963.9 L575.3,963.1 L575.3,962.5 L575.2,962.0 L575.4,962.4 L575.6,963.9 L575.9,965.1 L576.1,964.8 L576.4,961.6 L576.6,954.0 L576.8,941.5 L576.9,924.9 L577.1,905.4 L577.2,884.1 L577.3,861.9 L577.4,840.0 L577.4,816.2 L577.5,789.2 L577.4,761.5 L577.4,735.3 L577.4,713.1 L577.4,697.2Z"/>
<path d="M587.3,697.2 L587.3,433.5 L592.6,433.5 L592.9,433.9 L593.4,434.5 L593.9,435.1 L594.5,435.9 L595.0,436.7 L595.6,437.6 L596.1,438.5 L596.6,439.6 L597.2,440.7 L597.7,441.8 L598.3,442.9 L599.0,444.0 L599.7,445.1 L600.5,446.1 L601.3,447.2 L602.2,448.2 L603.1,449.2 L604.0,450.0 L604.9,450.7 L605.8,451.3 L606.7,451.8 L607.7,452.2 L608.8,452.6 L610.0,453.0 L611.3,453.4 L612.7,453.7 L614.1,453.9 L615.8,454.2 L617.7,454.4 L620.0,454.6 L622.6,454.8 L625.6,455.0 L628.8,455.1 L632.2,455.3 L636.0,455.4 L640.0,455.6 L644.3,455.8 L648.8,456.0 L653.6,456.3 L658.7,456.5 L664.2,456.8 L670.0,457.0 L676.6,457.3 L684.2,457.5 L692.1,457.8 L699.7,458.0 L706.5,458.3 L712.0,458.5 L715.8,458.6 L718.4,458.6 L720.1,458.6 L721.5,458.6 L723.0,458.9 L725.0,459.4 L727.5,460.3 L730.2,461.4 L732.9,462.8 L735.7,464.1 L738.5,465.5 L741.2,466.7 L743.9,467.8 L746.6,468.9 L749.3,470.0 L752.0,470.9 L754.7,471.8 L757.4,472.4 L760.0,472.8 L762.6,473.1 L765.2,473.2 L767.9,473.2 L770.6,473.2 L773.5,473.2 L776.6,473.2 L779.8,473.2 L783.1,473.1 L786.4,473.0 L789.7,472.8 L793.0,472.4 L796.3,471.9 L799.6,471.3 L802.8,470.6 L806.0,469.9 L809.1,469.0 L812.0,468.0 L814.7,466.9 L817.4,465.5 L819.9,464.1 L822.2,462.7 L824.3,461.4 L826.1,460.2 L827.5,459.2 L828.5,458.4 L829.2,457.6 L829.9,456.8 L830.7,456.1 L831.8,455.4 L833.2,454.7 L834.9,454.0 L836.6,453.3 L838.4,452.7 L840.0,452.0 L841.5,451.3 L842.8,450.6 L844.0,449.8 L845.2,449.1 L846.2,448.3 L847.1,447.4 L848.0,446.5 L848.7,445.5 L849.3,444.4 L849.7,443.2 L850.1,442.0 L850.6,441.0 L851.2,440.0 L851.9,439.2 L852.7,438.4 L853.6,437.7 L854.4,437.0 L855.3,436.5 L856.0,436.0 L856.7,435.6 L857.4,435.4 L858.0,435.2 L858.6,435.1 L859.0,435.1 L859.4,435.0 L859.6,697.2 L859.6,697.2 L860.0,960.0 L859.4,960.1 L858.5,960.2 L857.5,960.3 L856.4,960.4 L855.3,960.5 L854.4,960.4 L853.6,960.3 L852.9,960.1 L852.3,959.9 L851.7,959.6 L851.0,959.1 L850.4,958.4 L849.7,957.5 L849.1,956.3 L848.4,954.9 L847.7,953.5 L847.1,952.2 L846.5,951.0 L846.0,949.9 L845.6,948.9 L845.2,948.0 L844.8,947.1 L844.2,946.2 L843.4,945.3 L842.4,944.4 L841.2,943.6 L839.8,942.8 L838.4,941.9 L836.9,941.1 L835.4,940.3 L833.7,939.4 L831.8,938.4 L829.9,937.5 L828.0,936.6 L826.4,935.8 L825.3,935.3 L825.3,935.3 L823.8,933.6 L821.8,931.0 L819.4,928.1 L816.6,925.2 L813.6,922.7 L810.3,921.0 L806.7,920.3 L802.7,920.1 L798.4,920.4 L793.9,920.9 L789.5,921.4 L785.2,921.7 L780.9,921.8 L776.4,921.8 L772.0,921.8 L767.6,921.8 L763.6,921.9 L760.0,922.0 L756.9,922.2 L754.1,922.5 L751.5,922.8 L749.3,923.1 L747.1,923.5 L745.0,924.0 L743.0,924.6 L741.2,925.2 L739.5,926.0 L737.9,926.7 L736.4,927.4 L735.0,928.0 L733.6,928.5 L732.4,928.9 L731.2,929.3 L730.1,929.7 L729.1,930.1 L728.0,930.5 L727.0,930.9 L726.1,931.3 L725.2,931.7 L724.3,932.1 L723.2,932.6 L722.0,933.0 L720.9,933.5 L720.1,934.0 L719.2,934.6 L717.9,935.1 L715.6,935.6 L712.0,936.0 L706.7,936.3 L699.9,936.6 L692.2,936.8 L684.3,937.0 L676.7,937.2 L670.0,937.4 L664.2,937.6 L658.7,937.8 L653.6,938.0 L648.8,938.2 L644.3,938.4 L640.0,938.6 L636.0,938.8 L632.3,938.9 L628.9,939.1 L625.7,939.2 L622.8,939.3 L620.0,939.5 L617.5,939.6 L615.1,939.6 L613.1,939.6 L611.2,939.8 L609.5,940.0 L608.0,940.6 L606.8,941.4 L605.8,942.4 L605.1,943.6 L604.4,945.0 L603.8,946.4 L603.0,948.0 L602.1,949.9 L601.1,952.1 L600.2,954.5 L599.3,956.7 L598.5,958.6 L598.0,960.0 L597.0,961.0 L587.3,961.0 L587.3,697.2Z" fill="url(#ggrad)"/>
<path fill="#000" d="M822.0,450.0 L826.1,460.2 L827.8,461.5 L830.2,463.3 L833.1,465.4 L836.1,467.7 L839.0,470.1 L841.5,472.4 L843.7,474.7 L845.9,477.2 L848.0,479.8 L849.8,482.3 L851.5,484.7 L852.8,486.9 L853.8,488.8 L854.5,490.4 L854.9,491.9 L855.2,493.4 L855.3,494.9 L855.3,496.6 L855.2,498.3 L855.0,500.0 L854.7,501.7 L854.2,503.5 L853.6,505.6 L852.8,508.0 L851.8,510.8 L850.6,513.9 L849.2,517.2 L847.7,520.6 L846.2,524.1 L844.7,527.4 L843.2,530.6 L841.7,533.7 L840.1,536.9 L838.5,540.1 L836.8,543.4 L835.0,546.8 L833.0,550.4 L830.9,554.2 L828.8,558.0 L826.5,561.9 L824.3,565.7 L822.1,569.4 L819.9,573.0 L817.8,576.7 L815.6,580.2 L813.4,583.8 L811.3,587.2 L809.1,590.5 L806.9,593.7 L804.7,596.9 L802.4,600.1 L800.3,603.0 L798.2,605.8 L796.2,608.3 L794.4,610.5 L792.7,612.5 L791.1,614.4 L789.5,616.0 L788.0,617.5 L786.5,618.8 L785.1,619.9 L783.7,620.9 L782.3,621.6 L781.0,622.3 L779.7,623.0 L778.4,623.7 L777.0,624.5 L775.6,625.3 L774.2,626.1 L772.9,626.9 L771.6,627.7 L770.3,628.5 L769.0,629.4 L767.8,630.3 L766.5,631.2 L765.4,632.1 L764.5,632.9 L763.8,633.4 L744.4,634.2 L741.2,639.0 L730.7,639.0 L730.7,618.0 L731.7,618.0 L733.0,618.1 L734.5,618.2 L736.2,618.1 L738.0,617.8 L739.6,617.2 L741.1,616.3 L742.5,615.2 L744.0,613.8 L745.6,612.2 L747.3,610.4 L749.3,608.3 L751.6,605.8 L754.2,603.0 L757.0,600.0 L759.9,596.8 L762.7,593.6 L765.5,590.5 L768.2,587.6 L770.9,584.6 L773.5,581.7 L776.2,578.8 L778.9,575.8 L781.6,572.7 L784.3,569.6 L787.0,566.4 L789.7,563.1 L792.4,559.8 L795.1,556.6 L797.8,553.3 L800.5,550.0 L803.3,546.8 L806.1,543.5 L808.8,540.2 L811.5,537.0 L814.0,533.9 L816.4,530.8 L818.7,527.7 L821.0,524.7 L823.1,521.7 L825.1,518.9 L826.9,516.1 L828.6,513.4 L830.2,510.8 L831.6,508.2 L833.0,505.8 L834.1,503.5 L835.0,501.5 L835.7,499.8 L836.2,498.3 L836.6,497.0 L836.7,495.9 L836.8,494.7 L836.7,493.4 L836.5,492.0 L836.1,490.7 L835.7,489.3 L835.0,487.9 L834.3,486.6 L833.4,485.3 L832.4,484.0 L831.2,482.7 L829.9,481.4 L828.5,480.2 L827.0,479.0 L825.3,478.0 L823.5,477.1 L821.6,476.3 L819.6,475.6 L817.4,475.0 L815.0,474.5 L812.4,474.0 L809.3,473.6 L805.7,473.2 L801.9,472.9 L798.3,472.7 L795.2,472.5 L793.0,472.4 L790.0,466.0 L790.9,465.3 L792.1,464.3 L793.6,463.2 L795.1,461.9 L796.6,460.6 L797.8,459.4 L798.8,458.2 L799.6,456.9 L800.3,455.6 L801.1,454.3 L801.8,453.1 L802.7,452.1 L803.6,451.2 L804.5,450.4 L805.4,449.7 L806.4,449.1 L807.6,448.5 L809.1,448.1 L811.0,447.8 L813.4,447.6 L816.0,447.5 L818.5,447.4 L820.6,447.4 L822.1,447.3Z"/>
<path fill="#000" d="M822.0,944.4 L826.1,934.2 L827.8,932.9 L830.2,931.1 L833.1,929.0 L836.1,926.7 L839.0,924.3 L841.5,922.0 L843.7,919.7 L845.9,917.2 L848.0,914.6 L849.8,912.1 L851.5,909.7 L852.8,907.5 L853.8,905.6 L854.5,904.0 L854.9,902.5 L855.2,901.0 L855.3,899.5 L855.3,897.8 L855.2,896.1 L855.0,894.4 L854.7,892.7 L854.2,890.9 L853.6,888.8 L852.8,886.4 L851.8,883.6 L850.6,880.5 L849.2,877.2 L847.7,873.8 L846.2,870.3 L844.7,867.0 L843.2,863.8 L841.7,860.7 L840.1,857.5 L838.5,854.3 L836.8,851.0 L835.0,847.6 L833.0,844.0 L830.9,840.2 L828.8,836.4 L826.5,832.5 L824.3,828.7 L822.1,825.0 L819.9,821.4 L817.8,817.7 L815.6,814.2 L813.4,810.6 L811.3,807.2 L809.1,803.9 L806.9,800.7 L804.7,797.5 L802.4,794.3 L800.3,791.4 L798.2,788.6 L796.2,786.1 L794.4,783.9 L792.7,781.9 L791.1,780.0 L789.5,778.4 L788.0,776.9 L786.5,775.6 L785.1,774.5 L783.7,773.5 L782.3,772.8 L781.0,772.1 L779.7,771.4 L778.4,770.7 L777.0,769.9 L775.6,769.1 L774.2,768.3 L772.9,767.5 L771.6,766.7 L770.3,765.9 L769.0,765.0 L767.8,764.1 L766.5,763.2 L765.4,762.3 L764.5,761.5 L763.8,761.0 L744.4,760.2 L741.2,755.4 L730.7,755.4 L730.7,776.4 L731.7,776.4 L733.0,776.3 L734.5,776.2 L736.2,776.3 L738.0,776.6 L739.6,777.2 L741.1,778.1 L742.5,779.2 L744.0,780.6 L745.6,782.2 L747.3,784.0 L749.3,786.1 L751.6,788.6 L754.2,791.4 L757.0,794.4 L759.9,797.6 L762.7,800.8 L765.5,803.9 L768.2,806.8 L770.9,809.8 L773.5,812.7 L776.2,815.6 L778.9,818.6 L781.6,821.7 L784.3,824.8 L787.0,828.0 L789.7,831.3 L792.4,834.6 L795.1,837.8 L797.8,841.1 L800.5,844.4 L803.3,847.6 L806.1,850.9 L808.8,854.2 L811.5,857.4 L814.0,860.5 L816.4,863.6 L818.7,866.7 L821.0,869.7 L823.1,872.7 L825.1,875.5 L826.9,878.3 L828.6,881.0 L830.2,883.6 L831.6,886.2 L833.0,888.6 L834.1,890.9 L835.0,892.9 L835.7,894.6 L836.2,896.1 L836.6,897.4 L836.7,898.5 L836.8,899.7 L836.7,901.0 L836.5,902.4 L836.1,903.7 L835.7,905.1 L835.0,906.5 L834.3,907.8 L833.4,909.1 L832.4,910.4 L831.2,911.7 L829.9,913.0 L828.5,914.2 L827.0,915.4 L825.3,916.4 L823.5,917.3 L821.6,918.1 L819.6,918.8 L817.4,919.4 L815.0,919.9 L812.4,920.4 L809.3,920.8 L805.7,921.2 L801.9,921.5 L798.3,921.7 L795.2,921.9 L793.0,922.0 L790.0,928.4 L790.9,929.1 L792.1,930.1 L793.6,931.2 L795.1,932.5 L796.6,933.8 L797.8,935.0 L798.8,936.2 L799.6,937.5 L800.3,938.8 L801.1,940.1 L801.8,941.3 L802.7,942.3 L803.6,943.2 L804.5,944.0 L805.4,944.7 L806.4,945.3 L807.6,945.9 L809.1,946.3 L811.0,946.6 L813.4,946.8 L816.0,947.0 L818.5,947.0 L820.6,947.0 L822.1,947.1Z"/>
<path fill="#000" d="M731.0,651.6 L741.0,651.6 L745.0,657.0 L761.0,657.0 L761.0,669.6 L731.0,669.6Z"/>
<path fill="#000" d="M731.0,742.8 L741.0,742.8 L745.0,737.4 L761.0,737.4 L761.0,724.8 L731.0,724.8Z"/>
<line x1="276.5" y1="444.0" x2="276.5" y2="931.0" stroke="#fb0d0d" stroke-width="2.5" stroke-dasharray="2.5 2.17"/>
<line x1="355.9" y1="606" x2="355.9" y2="932" stroke="#f5161b" stroke-width="1.7"/>
<line x1="158.2" y1="619.8" x2="341.4" y2="619.8" stroke="#1aa3e6" stroke-width="3.5" stroke-dasharray="3.7 3.1"/>
<path d="M143.6,619.8 l12.6,-6.3 v12.6 Z" fill="#1aa3e6"/>
<path d="M355.0,619.8 l-12.6,-6.3 v12.6 Z" fill="#1aa3e6"/>
<path d="M203.6,366.0 H349.6 V413.4 H286.0 V421.5 H295.0 L276.5,439.5 L258.6,421.5 H267.0 V413.4 H203.6 Z" fill="#000" opacity="0.45" transform="translate(3.0,3.0)" filter="url(#sh)"/>
<path d="M203.6,366.0 H349.6 V413.4 H286.0 V421.5 H295.0 L276.5,439.5 L258.6,421.5 H267.0 V413.4 H203.6 Z" fill="#fe0000"/>
<g filter="url(#lf60_fff_240505_22)"><text transform="translate(215.56,404.00) scale(0.4054,1.0000)" font-size="39.27" font-weight="bold" fill="#fff" letter-spacing="3.93" >CENTER LINE</text></g>
<path d="M437.2,371.8 H564.3 V418.0 H437.2 Q451.2,394.9 437.2,371.8 Z" fill="#000"/>
<line x1="431.8" y1="596.3" x2="508.8" y2="418.0" stroke="#000" stroke-width="4.8"/>
<circle cx="431.8" cy="596.3" r="7.4" fill="#000"/>
<text transform="translate(453.60,394.35) scale(1.2301,1.0000)" font-size="21.09" font-weight="bold" fill="#fff" stroke="#fff" stroke-width="1.50" stroke-linejoin="miter" stroke-miterlimit="2.2" >FRONT</text>
<g filter="url(#lf30_d4d4d4_n_20)"><text transform="translate(454.86,412.20) scale(0.4371,1.0000)" font-size="19.64" font-weight="bold" fill="#d4d4d4" letter-spacing="1.18" >OF WHEEL</text></g>
<path d="M157.0,552.3 H274.2 V590.5 H221.5 V595.6 H224.1 L215.9,611.4 L207.9,595.6 H210.6 V590.5 H157.0 Z" fill="#000" opacity="0.45" transform="translate(3.0,3.0)" filter="url(#sh)"/>
<path d="M157.0,552.3 H274.2 V590.5 H221.5 V595.6 H224.1 L215.9,611.4 L207.9,595.6 H210.6 V590.5 H157.0 Z" fill="#1aa3e6"/>
<g filter="url(#lf20_fff_07121a_21)"><text transform="translate(162.80,580.60) scale(0.4154,1.0000)" font-size="28.51" font-weight="bold" fill="#fff" letter-spacing="2.85" >BACK-SPACING</text></g>
<path d="M461.4,680.4 H558.4 V722.4 H461.4 V706.2 H448.0 V711.0 L437.6,701.0 L448.0,691.0 V695.8 H461.4 Z" fill="#000" opacity="0.60" transform="translate(3.0,3.0)" filter="url(#sh1)"/>
<path d="M461.4,680.4 H558.4 V722.4 H461.4 V706.2 H448.0 V711.0 L437.6,701.0 L448.0,691.0 V695.8 H461.4 Z" fill="#fdb90b"/>
<g filter="url(#lf25_fff_1a1505_20)"><text transform="translate(467.83,710.00) scale(0.4054,1.0000)" font-size="25.60" font-weight="bold" fill="#fff" letter-spacing="2.56" >CENTER BORE</text></g>
<path d="M411,668 C420,668.5 429,670 429,678 V688 C429,694 433,698 437.6,700 C433,702 429,707 429,712 V716 C429,722 420,723.5 411,724" fill="none" stroke="#fdb90b" stroke-width="2" stroke-dasharray="2 2.2"/>
<path d="M279.0,898.0 l12.0,-7.0 v4.2 H342.0 v-4.2 L354.0,898.0 l-12.0,7.0 v-4.2 H291.0 v4.2 Z" fill="#b4069d"/>
<rect x="243.0" y="932.4" width="153.0" height="49.6" fill="#b4069d"/>
<path d="M243.0,932.4 H396.0 L393.4,935.0 H245.6 Z" fill="#cf55c5"/>
<path d="M243.0,982.0 H396.0 L393.4,979.4 H245.6 Z" fill="#74046a"/>
<path d="M243.0,932.4 V982.0 L245.6,979.4 V935.0 Z" fill="#c845bd"/>
<path d="M396.0,932.4 V982.0 L393.4,979.4 V935.0 Z" fill="#8c067e"/>
<path d="M313.0,935.0 V923.0 L309.0,923.0 L319.0,905.0 L329.0,923.0 L325.0,923.0 V935.0 Z" fill="#b4069d"/>
<path d="M313.0,933.4 V923.0 L309.0,923.0 L319.0,905.0 L315.4,923.0 Z" fill="#d770ce" opacity="0.75"/>
<g filter="url(#lf35_fff_1c041a_20)"><text transform="translate(252.95,968.50) scale(0.4060,1.0000)" font-size="32.73" font-weight="bold" fill="#fff" letter-spacing="2.95" >POSITIVE OFFSET</text></g>
<line x1="730.6" y1="443.0" x2="730.6" y2="926.0" stroke="#fb0d0d" stroke-width="2.5" stroke-dasharray="2.5 2.17"/>
<line x1="599.0" y1="622.4" x2="719.5" y2="622.4" stroke="#1aa3e6" stroke-width="2.2" stroke-dasharray="2.4 2.6"/>
<path d="M588.0,622.4 l9.0,-4.0 v8.0 Z" fill="#1aa3e6"/>
<path d="M729.5,622.4 l-9.0,-4.0 v8.0 Z" fill="#1aa3e6"/>
<path d="M657.0,367.0 H804.0 V414.6 H740.0 V422.6 H749.0 L730.5,440.6 L712.4,422.6 H721.0 V414.6 H657.0 Z" fill="#000" opacity="0.45" transform="translate(3.0,3.0)" filter="url(#sh)"/>
<path d="M657.0,367.0 H804.0 V414.6 H740.0 V422.6 H749.0 L730.5,440.6 L712.4,422.6 H721.0 V414.6 H657.0 Z" fill="#fe0000"/>
<g filter="url(#lf60_fff_240505_22)"><text transform="translate(668.56,405.40) scale(0.4067,1.0000)" font-size="39.27" font-weight="bold" fill="#fff" letter-spacing="3.93" >CENTER LINE</text></g>
<path d="M868.2,368.8 H995.0 V414.7 H868.2 Q882.2,391.8 868.2,368.8 Z" fill="#000"/>
<line x1="881.0" y1="595.0" x2="959.3" y2="414.7" stroke="#000" stroke-width="4.8"/>
<circle cx="881.0" cy="595.0" r="7.4" fill="#000"/>
<text transform="translate(881.30,391.15) scale(1.2273,1.0000)" font-size="21.09" font-weight="bold" fill="#fff" stroke="#fff" stroke-width="1.50" stroke-linejoin="miter" stroke-miterlimit="2.2" >FRONT</text>
<g filter="url(#lf30_d4d4d4_n_20)"><text transform="translate(882.86,409.40) scale(0.4362,1.0000)" font-size="19.64" font-weight="bold" fill="#d4d4d4" letter-spacing="1.18" >OF WHEEL</text></g>
<path d="M604.0,568.4 H709.0 V602.0 H663.0 V608.0 H666.0 L657.6,620.0 L649.0,608.0 H652.0 V602.0 H604.0 Z" fill="#000" opacity="0.45" transform="translate(3.0,3.0)" filter="url(#sh)"/>
<path d="M604.0,568.4 H709.0 V602.0 H663.0 V608.0 H666.0 L657.6,620.0 L649.0,608.0 H652.0 V602.0 H604.0 Z" fill="#1aa3e6"/>
<g filter="url(#lf20_fff_07121a_21)"><text transform="translate(608.45,595.80) scale(0.3887,1.0000)" font-size="28.51" font-weight="bold" fill="#fff" letter-spacing="2.85" >BACK-SPACING</text></g>
<path d="M817.4,677.6 H918.0 V718.0 H817.4 V702.4 H802.0 V707.8 L791.0,698.0 L802.0,688.2 V693.6 H817.4 Z" fill="#000" opacity="0.60" transform="translate(3.0,3.0)" filter="url(#sh1)"/>
<path d="M817.4,677.6 H918.0 V718.0 H817.4 V702.4 H802.0 V707.8 L791.0,698.0 L802.0,688.2 V693.6 H817.4 Z" fill="#fdb90b"/>
<g filter="url(#lf25_fff_1a1505_20)"><text transform="translate(822.81,708.00) scale(0.4169,1.0000)" font-size="26.18" font-weight="bold" fill="#fff" letter-spacing="2.62" >CENTER BORE</text></g>
<path d="M761,669.6 C770,670 778.4,672 778.4,680 V688 C778.4,693 785,696 791,697.8 C785,699.6 778.4,702 778.4,707 V715 C778.4,722 770,724 761,724.4" fill="none" stroke="#fdb90b" stroke-width="2" stroke-dasharray="2 2.2"/>
<rect x="652.2" y="947.6" width="156.5" height="40.2" fill="#b4069d"/>
<path d="M652.2,947.6 H808.7 L806.1,950.2 H654.8 Z" fill="#cf55c5"/>
<path d="M652.2,987.8 H808.7 L806.1,985.2 H654.8 Z" fill="#74046a"/>
<path d="M652.2,947.6 V987.8 L654.8,985.2 V950.2 Z" fill="#8c067e"/>
<path d="M808.7,947.6 V987.8 L806.1,985.2 V950.2 Z" fill="#c845bd"/>
<path d="M724.7,950.2 V940.5 L720.3,940.5 L730.7,926.8 L741.1,940.5 L737.1,940.5 V950.2 Z" fill="#b4069d"/>
<path d="M737.1,948.6 V940.5 L741.1,940.5 L730.7,926.8 L734.7,940.5 Z" fill="#d770ce" opacity="0.75"/>
<g filter="url(#lf35_fff_1c041a_20)"><text transform="translate(680.47,979.80) scale(0.3907,1.0000)" font-size="32.73" font-weight="bold" fill="#fff" letter-spacing="2.95" >ZERO OFFSET</text></g>
<line x1="1169.5" y1="442.0" x2="1169.5" y2="931.0" stroke="#fb0d0d" stroke-width="2.5" stroke-dasharray="2.5 2.17"/>
<line x1="1102" y1="604" x2="1102" y2="932" stroke="#f5161b" stroke-width="1.7"/>
<line x1="1045.5" y1="618.6" x2="1096.0" y2="618.6" stroke="#1aa3e6" stroke-width="1.2" stroke-dasharray="1.4 1.4"/>
<path d="M1039.0,618.6 l4.5,-2.4 v4.8 Z" fill="#1aa3e6"/>
<path d="M1101.5,618.6 l-4.5,-2.4 v4.8 Z" fill="#1aa3e6"/>
<path d="M1096.0,367.0 H1243.0 V414.6 H1179.4 V422.6 H1188.0 L1169.6,440.0 L1151.6,422.6 H1160.0 V414.6 H1096.0 Z" fill="#000" opacity="0.45" transform="translate(3.0,3.0)" filter="url(#sh)"/>
<path d="M1096.0,367.0 H1243.0 V414.6 H1179.4 V422.6 H1188.0 L1169.6,440.0 L1151.6,422.6 H1160.0 V414.6 H1096.0 Z" fill="#fe0000"/>
<g filter="url(#lf60_fff_240505_22)"><text transform="translate(1107.96,405.40) scale(0.4054,1.0000)" font-size="39.27" font-weight="bold" fill="#fff" letter-spacing="3.93" >CENTER LINE</text></g>
<path d="M1313.4,368.8 H1440.5 V414.7 H1313.4 Q1327.4,391.8 1313.4,368.8 Z" fill="#000"/>
<line x1="1321.2" y1="596.3" x2="1399.0" y2="414.7" stroke="#000" stroke-width="4.8"/>
<circle cx="1321.2" cy="596.3" r="7.4" fill="#000"/>
<text transform="translate(1327.21,391.15) scale(1.2230,1.0000)" font-size="21.09" font-weight="bold" fill="#fff" stroke="#fff" stroke-width="1.50" stroke-linejoin="miter" stroke-miterlimit="2.2" >FRONT</text>
<g filter="url(#lf30_d4d4d4_n_20)"><text transform="translate(1328.56,409.40) scale(0.4362,1.0000)" font-size="19.64" font-weight="bold" fill="#d4d4d4" letter-spacing="1.18" >OF WHEEL</text></g>
<path d="M1013.5,556.6 H1131.0 V595.0 H1077.0 V601.0 H1080.4 L1072.0,615.0 L1064.0,601.0 H1067.0 V595.0 H1013.5 Z" fill="#000" opacity="0.45" transform="translate(3.0,3.0)" filter="url(#sh)"/>
<path d="M1013.5,556.6 H1131.0 V595.0 H1077.0 V601.0 H1080.4 L1072.0,615.0 L1064.0,601.0 H1067.0 V595.0 H1013.5 Z" fill="#1aa3e6"/>
<g filter="url(#lf20_fff_07121a_21)"><text transform="translate(1019.38,586.40) scale(0.3971,1.0000)" font-size="30.55" font-weight="bold" fill="#fff" letter-spacing="3.05" >BACK-SPACING</text></g>
<path d="M1229.2,676.2 H1340.4 V718.0 H1229.2 V700.8 H1198.0 V707.2 L1187.2,697.0 L1198.0,686.8 V693.2 H1229.2 Z" fill="#000" opacity="0.60" transform="translate(3.0,3.0)" filter="url(#sh1)"/>
<path d="M1229.2,676.2 H1340.4 V718.0 H1229.2 V700.8 H1198.0 V707.2 L1187.2,697.0 L1198.0,686.8 V693.2 H1229.2 Z" fill="#fdb90b"/>
<g filter="url(#lf25_fff_1a1505_20)"><text transform="translate(1238.82,707.00) scale(0.3998,1.0000)" font-size="27.05" font-weight="bold" fill="#fff" letter-spacing="2.71" >CENTER BORE</text></g>
<path d="M1154,667.6 C1163,668.5 1171,670 1171,678 V688 C1171,693 1180,695.5 1187.2,696.8 C1180,698 1171,701 1171,706 V714 C1171,721 1163,723.5 1154,724.4" fill="none" stroke="#fdb90b" stroke-width="2" stroke-dasharray="2 2.2"/>
<path d="M1104.0,900.0 l11.0,-7.0 v4.2 H1155.4 v-4.2 L1166.4,900.0 l-11.0,7.0 v-4.2 H1115.0 v4.2 Z" fill="#b4069d"/>
<rect x="1061.4" y="932.0" width="154.0" height="49.6" fill="#b4069d"/>
<path d="M1061.4,932.0 H1215.4 L1212.8,934.6 H1064.0 Z" fill="#cf55c5"/>
<path d="M1061.4,981.6 H1215.4 L1212.8,979.0 H1064.0 Z" fill="#74046a"/>
<path d="M1061.4,932.0 V981.6 L1064.0,979.0 V934.6 Z" fill="#c845bd"/>
<path d="M1215.4,932.0 V981.6 L1212.8,979.0 V934.6 Z" fill="#8c067e"/>
<path d="M1132.6,934.6 V923.0 L1128.0,923.0 L1138.6,905.0 L1149.0,923.0 L1144.4,923.0 V934.6 Z" fill="#b4069d"/>
<path d="M1132.6,933.0 V923.0 L1128.0,923.0 L1138.6,905.0 L1135.0,923.0 Z" fill="#d770ce" opacity="0.75"/>
<g filter="url(#lf35_fff_1c041a_20)"><text transform="translate(1069.47,967.00) scale(0.3902,1.0000)" font-size="33.45" font-weight="bold" fill="#fff" letter-spacing="3.01" >NEGATIVE OFFSET</text></g>
<rect x="89.2" y="1010.1" width="380.3" height="233.5" fill="#fff" stroke="#555" stroke-width="4"/>
<rect x="91.2" y="1012.1" width="376.3" height="112.6" fill="#000"/>
<rect x="91.2" y="1124.7" width="376.3" height="2.6" fill="url(#hsh)"/>
<text transform="translate(141.87,1065.20) scale(1.2254,1.0000)" font-size="48.73" font-weight="bold" fill="#fff" stroke="#fff" stroke-width="3.00" stroke-linejoin="miter" stroke-miterlimit="2.2" >POSITIVE</text>
<g filter="url(#lf100_c6c6c6_n_20)"><text transform="translate(240.48,1112.80) scale(0.3641,1.0000)" font-size="49.45" font-weight="bold" fill="#c6c6c6" letter-spacing="6.43" >OFFSET</text></g>
<text transform="translate(97.40,1157.20) scale(0.7682,1.0000)" font-size="26.33" font-weight="normal" fill="#111" stroke="#111" stroke-width="0.80" stroke-linejoin="miter" stroke-miterlimit="2.2" >When the hub mounting surface is</text>
<text transform="translate(96.11,1185.70) scale(0.7820,1.0000)" font-size="26.33" font-weight="normal" fill="#111" stroke="#111" stroke-width="0.80" stroke-linejoin="miter" stroke-miterlimit="2.2" >located in front of the wheel’s centerline</text>
<text transform="translate(96.22,1214.20) scale(0.7784,1.0000)" font-size="26.33" font-weight="normal" fill="#111" stroke="#111" stroke-width="0.80" stroke-linejoin="miter" stroke-miterlimit="2.2" >(closer to the street side).</text>
<rect x="536.0" y="1007.4" width="379.3" height="236.8" fill="#fff" stroke="#555" stroke-width="4"/>
<rect x="538.0" y="1009.4" width="375.3" height="114.8" fill="#000"/>
<rect x="538.0" y="1124.2" width="375.3" height="2.6" fill="url(#hsh)"/>
<text transform="translate(641.76,1065.50) scale(1.1736,1.0000)" font-size="49.45" font-weight="bold" fill="#fff" stroke="#fff" stroke-width="3.00" stroke-linejoin="miter" stroke-miterlimit="2.2" >ZERO</text>
<g filter="url(#lf100_c6c6c6_n_20)"><text transform="translate(682.77,1112.80) scale(0.3695,1.0000)" font-size="49.45" font-weight="bold" fill="#c6c6c6" letter-spacing="6.43" >OFFSET</text></g>
<text transform="translate(546.00,1157.50) scale(0.7700,1.0000)" font-size="26.33" font-weight="normal" fill="#111" stroke="#111" stroke-width="0.80" stroke-linejoin="miter" stroke-miterlimit="2.2" >When the hub mounting surface aligns</text>
<text transform="translate(546.15,1186.40) scale(0.7783,1.0000)" font-size="26.33" font-weight="normal" fill="#111" stroke="#111" stroke-width="0.80" stroke-linejoin="miter" stroke-miterlimit="2.2" >with the centerline of the wheel wells.</text>
<rect x="982.2" y="1007.4" width="378.8" height="236.8" fill="#fff" stroke="#555" stroke-width="4"/>
<rect x="984.2" y="1009.4" width="374.8" height="114.4" fill="#000"/>
<rect x="984.2" y="1123.8" width="374.8" height="2.6" fill="url(#hsh)"/>
<text transform="translate(1017.61,1064.60) scale(1.2255,1.0000)" font-size="49.45" font-weight="bold" fill="#fff" stroke="#fff" stroke-width="3.00" stroke-linejoin="miter" stroke-miterlimit="2.2" >NEGATIVE</text>
<g filter="url(#lf100_c6c6c6_n_20)"><text transform="translate(1126.27,1112.80) scale(0.3672,1.0000)" font-size="49.45" font-weight="bold" fill="#c6c6c6" letter-spacing="6.43" >OFFSET</text></g>
<text transform="translate(993.00,1157.50) scale(0.7567,1.0000)" font-size="26.33" font-weight="normal" fill="#111" stroke="#111" stroke-width="0.80" stroke-linejoin="miter" stroke-miterlimit="2.2" >When the hub mounting surface is</text>
<text transform="translate(991.79,1186.40) scale(0.7648,1.0000)" font-size="26.33" font-weight="normal" fill="#111" stroke="#111" stroke-width="0.80" stroke-linejoin="miter" stroke-miterlimit="2.2" >positioned behind the wheel’s centerline.</text>
</svg>
</body></html>
